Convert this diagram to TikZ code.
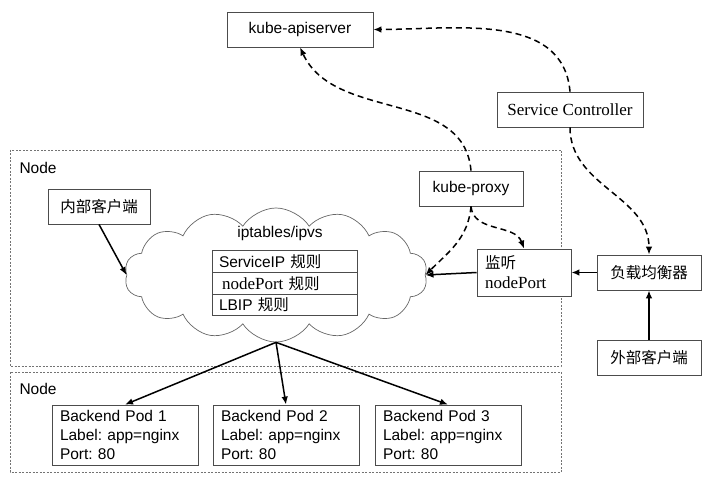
\documentclass[tikz,border=0pt]{standalone}
\usepackage{fontspec}
\setmainfont{Liberation Sans}
\newfontfamily\serif{Liberation Serif}
\newfontfamily\zhfont{Noto Sans CJK SC}
\newcommand{\zh}[1]{{\zhfont #1}}
\newcommand{\tm}[1]{{\serif\fontsize{17}{20}\selectfont #1}}
\usepackage{tikz}
\usetikzlibrary{positioning,calc,shapes.symbols,arrows.meta}
\frenchspacing

\begin{document}
\begin{tikzpicture}[x=1pt,y=1pt,
		box/.style={draw=black!70,line width=0.8pt,fill=white,minimum height=35pt,inner sep=0pt},
		podbox/.style={draw=black!70,line width=0.8pt,minimum height=60pt,text width=130pt,inner xsep=8pt,align=left},
		rulebox/.style={draw=black!70,line width=0.8pt,minimum height=21.7pt,text width=131pt,inner xsep=7pt,inner ysep=0pt,align=left},
		nodearea/.style={draw=black!55,line width=0.6pt,dash pattern=on 2pt off 1.5pt},
		flow/.style={-{Latex[length=8pt,width=6.5pt]},line width=1.5pt},
		watch/.style={-{Latex[length=8pt,width=6.5pt]},line width=1.5pt,dash pattern=on 6pt off 4pt},
		font=\fontsize{15.5}{19}\selectfont]
			\useasboundingbox (0,0) rectangle (720,-486);
			
			\draw[nodearea] (10,-150) rectangle (561,-366);
			\draw[nodearea] (10,-372) rectangle (561,-472);
			\node[anchor=west] (nodeup) at (16,-168) {Node};
			\node[anchor=west] (nodedown) at (16,-389) {Node};
			
			\node[box,minimum width=146pt] (api) at (300,-29.5) {kube-apiserver};
			\node[box,minimum width=146pt] (sc) at (570,-109.5) {\tm{Service Controller}};
			\node[box,minimum width=104pt] (proxy) at (471,-188.5) {kube-proxy};
			\node[box,minimum width=102pt] (inner) at (99,-206.5) {\zh{内部客户端}};
			
			\node[cloud,draw=black!60,line width=0.7pt,cloud puffs=14,cloud puff arc=115,aspect=2.3,
				minimum width=303pt,minimum height=134pt] (cloud) at (276,-275) {};
			\node (ipvs) at (280,-233) {iptables/ipvs};
			\node[rulebox] (rule1) at (284.5,-261.5) {ServiceIP \zh{规则}};
			\node[rulebox] (rule2) at (284.5,-283.2) {\hspace{3pt}\tm{nodePort} \zh{规则}};
			\node[rulebox] (rule3) at (284.5,-304.9) {LBIP \zh{规则}};
			
			\node[box,minimum width=94pt,minimum height=47pt,text width=78pt,inner xsep=8pt,align=left,
				font=\fontsize{15.5}{20}\selectfont] (listen) at (524,-272.5) {\zh{监听}\\\tm{nodePort}};
			\node[box,minimum width=104pt] (lb) at (649,-272.5) {\zh{负载均衡器}};
			\node[box,minimum width=104pt] (ext) at (649,-357.5) {\zh{外部客户端}};
			
			\foreach \i/\x in {1/125,2/286,3/448} {
				\node[podbox] (pod\i) at (\x,-435) {Backend Pod \i\\Label: app=nginx\\Port: 80};
				\draw[flow] (cloud.south) -- (pod\i.north);
			}
			
			\draw[flow] (inner.south) -- (cloud.west);
			\draw[flow] (listen.west) -- (cloud.east);
			\draw[flow] (lb.west) -- (listen.east);
			\draw[flow] (ext.north) -- (lb.south);
			
			\draw[watch] (proxy.south) to[out=-85,in=110] (listen.north);
			\draw[watch] (proxy.south) to[out=-95,in=45] (cloud.east);
			\draw[watch] (proxy.north) to[out=95,in=-65] (api.south);
			\draw[watch] (sc.north) to[out=95,in=0] (api.east);
			\draw[watch] (sc.south) to[out=-90,in=90] (lb.north);
		\end{tikzpicture}
\end{document}
